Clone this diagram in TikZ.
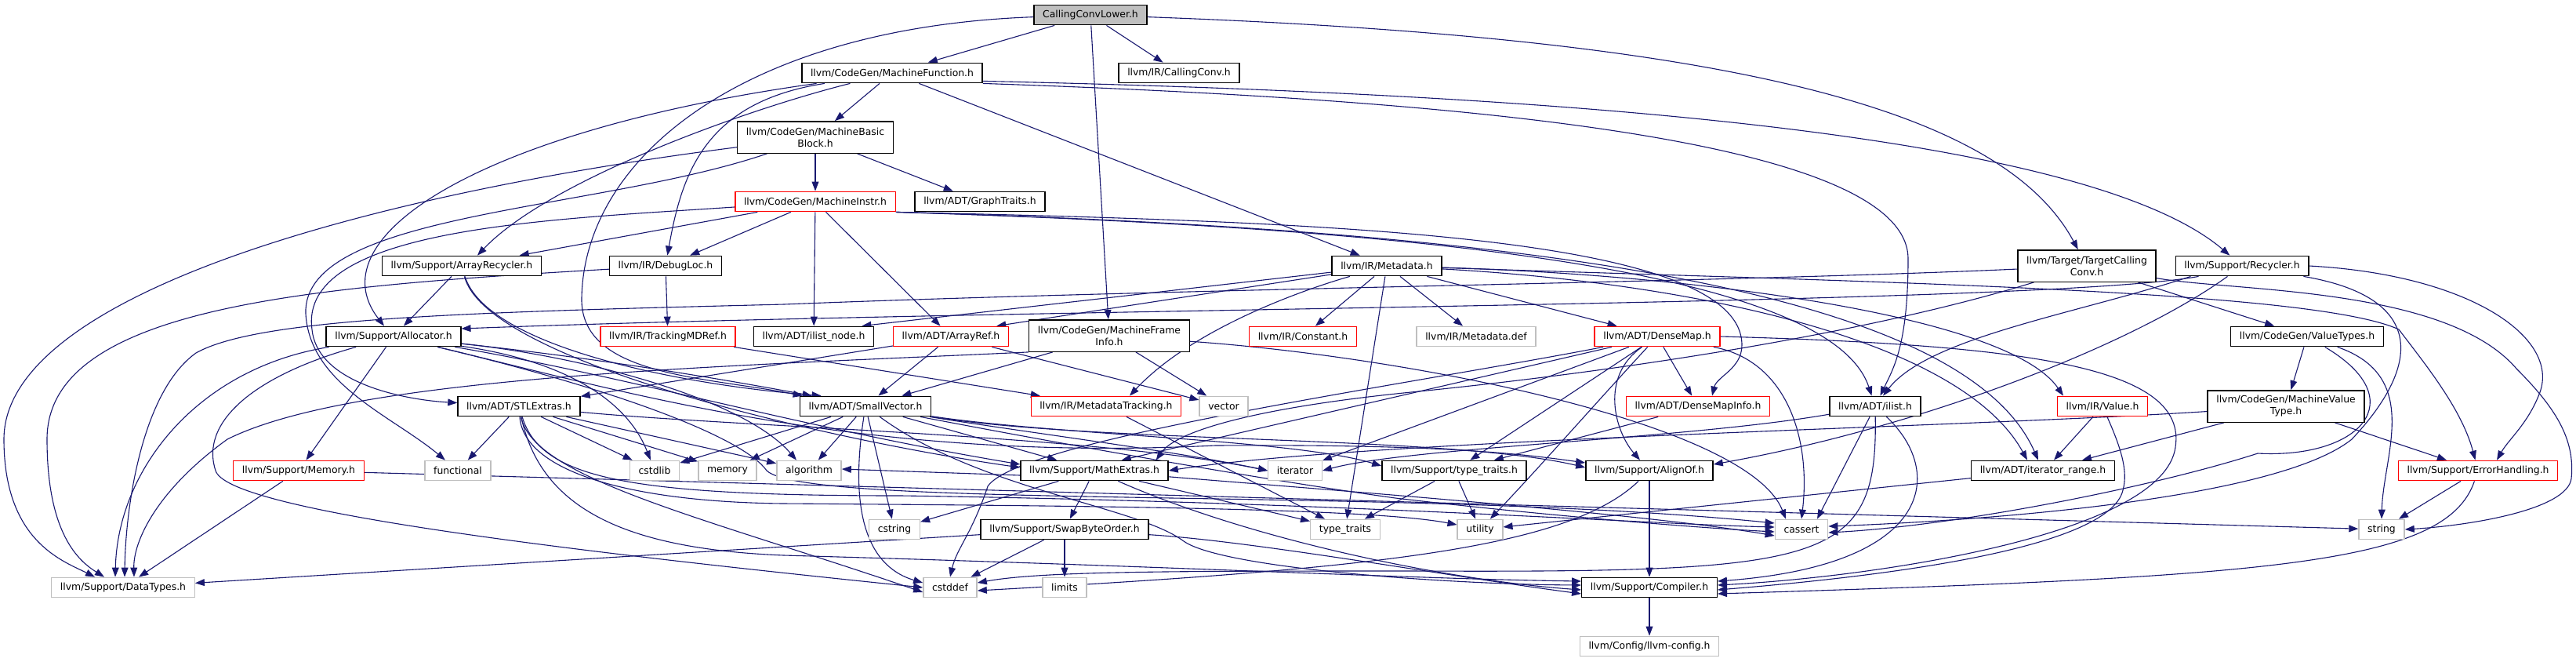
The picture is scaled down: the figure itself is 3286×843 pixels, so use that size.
\documentclass[tikz,border=0pt]{standalone}
\usepackage{fontspec}
\setmainfont{DejaVu Sans}
\usepackage{xcolor}
\usetikzlibrary{arrows.meta, backgrounds}
\definecolor{edgeblue}{HTML}{191970}
\definecolor{sysgray}{HTML}{BFBFBF}
\definecolor{truncred}{HTML}{FF0000}

\begin{document}
\begin{tikzpicture}[
      x=0.5pt, y=-0.5pt,
      font=\fontsize{6.2}{7.5}\selectfont,
      hdr/.style={draw=black, fill=white, line width=0.7pt, minimum height=12.7pt, inner xsep=5.6pt, inner ysep=1pt, align=center},
      trunc/.style={hdr, draw=truncred},
      sys/.style={hdr, draw=sysgray},
      root/.style={hdr, fill=sysgray},
      tall/.style={minimum height=20.2pt},
      arr/.style={-{Triangle[length=6pt, width=4.4pt]}, draw=edgeblue, line width=0.55pt}
    ]
    \useasboundingbox (0,0) rectangle (3286,843);
    %% rows of headers
    \node[root]  (ccl)     at (1391,19)  {CallingConvLower.h};
    \node[hdr]   (mf)      at (1138,93)  {llvm/CodeGen/MachineFunction.h};
    \node[hdr]   (cconv)   at (1504,93)  {llvm/IR/CallingConv.h};
    \node[hdr, tall] (mbb) at (1040,175) {llvm/CodeGen/MachineBasic\\Block.h};
    \node[trunc] (minstr)  at (1040,257) {llvm/CodeGen/MachineInstr.h};
    \node[hdr]   (gtraits) at (1250,257) {llvm/ADT/GraphTraits.h};
    \node[hdr]   (arec)    at (589,339)  {llvm/Support/ArrayRecycler.h};
    \node[hdr]   (dloc)    at (849,339)  {llvm/IR/DebugLoc.h};
    \node[hdr]   (mdata)   at (1769,339) {llvm/IR/Metadata.h};
    \node[hdr, tall] (tcc) at (2662,339) {llvm/Target/TargetCalling\\Conv.h};
    \node[hdr]   (recyc)   at (2860,339) {llvm/Support/Recycler.h};
    \node[hdr]   (alloc)   at (502,429)  {llvm/Support/Allocator.h};
    \node[trunc] (tmdref)  at (852,429)  {llvm/IR/TrackingMDRef.h};
    \node[hdr]   (ilnode)  at (1038,429) {llvm/ADT/ilist\_node.h};
    \node[trunc] (aref)    at (1213,429) {llvm/ADT/ArrayRef.h};
    \node[hdr, tall] (mfinfo) at (1415,428) {llvm/CodeGen/MachineFrame\\Info.h};
    \node[trunc] (const)   at (1662,429) {llvm/IR/Constant.h};
    \node[sys]   (mdef)    at (1883,429) {llvm/IR/Metadata.def};
    \node[trunc] (dmap)    at (2114,429) {llvm/ADT/DenseMap.h};
    \node[hdr]   (vtypes)  at (2943,429) {llvm/CodeGen/ValueTypes.h};
    \node[hdr]   (stlx)    at (662,518)  {llvm/ADT/STLExtras.h};
    \node[hdr]   (svec)    at (1104,518) {llvm/ADT/SmallVector.h};
    \node[trunc] (mdtrk)   at (1411,518) {llvm/IR/MetadataTracking.h};
    \node[sys]   (vect)    at (1561,518) {vector};
    \node[trunc] (dminfo)  at (2166,518) {llvm/ADT/DenseMapInfo.h};
    \node[hdr]   (ilist)   at (2392,518) {llvm/ADT/ilist.h};
    \node[trunc] (value)   at (2682,518) {llvm/IR/Value.h};
    \node[hdr, tall] (mvt) at (2916,518) {llvm/CodeGen/MachineValue\\Type.h};
    \node[trunc] (memh)    at (381,600)  {llvm/Support/Memory.h};
    \node[sys]   (func)    at (584,600)  {functional};
    \node[sys]   (cstdlib) at (835,600)  {cstdlib};
    \node[sys]   (memory)  at (928,600)  {memory};
    \node[sys]   (algo)    at (1032,600) {algorithm};
    \node[hdr]   (mathx)   at (1396,600) {llvm/Support/MathExtras.h};
    \node[sys]   (iter)    at (1652,600) {iterator};
    \node[hdr]   (stt)     at (1855,600) {llvm/Support/type\_traits.h};
    \node[hdr]   (alignof) at (2104,600) {llvm/Support/AlignOf.h};
    \node[hdr]   (itrng)   at (2606,600) {llvm/ADT/iterator\_range.h};
    \node[trunc] (errh)    at (3161,600) {llvm/Support/ErrorHandling.h};
    \node[sys]   (cstring) at (1141,675) {cstring};
    \node[hdr]   (sbo)     at (1358,675) {llvm/Support/SwapByteOrder.h};
    \node[sys]   (ttraits) at (1716,675) {type\_traits};
    \node[sys]   (utility) at (1888,675) {utility};
    \node[sys]   (cassert) at (2298,675) {cassert};
    \node[sys]   (string)  at (3038,675) {string};
    \node[sys]   (dtypes)  at (157,749)  {llvm/Support/DataTypes.h};
    \node[sys]   (cstddef) at (1212,749) {cstddef};
    \node[sys]   (limits)  at (1358,749) {limits};
    \node[hdr]   (compiler) at (2104,749) {llvm/Support/Compiler.h};
    \node[sys]   (config)  at (2104,824) {llvm/Config/llvm-config.h};
    \begin{scope}[on background layer]
    \fill[white] (0,0) rectangle (3286,843);
    %% CallingConvLower.h
    \draw[arr] (ccl) -- (mf);
    \draw[arr] (ccl) -- (cconv);
    \draw[arr] (ccl) -- (mfinfo);
    \draw[arr] (ccl) .. controls (2250,50) and (2560,150) .. (tcc);
    \draw[arr] (ccl) .. controls (950,35) and (745,200) .. (742,380) .. controls (740,480) and (900,480) .. ([xshift=2pt]svec.north west);
    %% MachineFunction.h
    \draw[arr] (mf) -- (mbb);
    \draw[arr] (mf) -- (mdata);
    \draw[arr] (mf) .. controls (950,140) and (700,230) .. ([xshift=10pt]arec.north);
    \draw[arr] (mf) .. controls (900,130) and (870,220) .. (dloc);
    \draw[arr] (mf) .. controls (620,165) and (400,300) .. ([xshift=-6pt]alloc.north);
    \draw[arr] (mf.south east) .. controls (1800,125) and (2434,170) .. (2434,330) .. controls (2434,440) and (2415,470) .. (ilist);
    \draw[arr] ([yshift=1.5pt]mf.south east) .. controls (1900,118) and (2650,160) .. (recyc);
    %% MachineBasicBlock.h
    \draw[arr] (mbb) -- (minstr);
    \draw[arr] (mbb) -- (gtraits);
    \draw[arr] (mbb) .. controls (450,250) and (5,380) .. (5,560) .. controls (5,690) and (80,715) .. ([xshift=-18pt]dtypes.north);
    \draw[arr] (mbb) .. controls (760,270) and (385,270) .. (390,400) .. controls (395,490) and (500,530) .. (func);
    %% MachineInstr.h
    \draw[arr] (minstr) -- (dloc);
    \draw[arr] (minstr) -- (ilnode);
    \draw[arr] (minstr) -- (aref);
    \draw[arr] (minstr) -- (arec);
    \draw[arr] (minstr) .. controls (700,280) and (380,290) .. (398,420) .. controls (405,490) and (520,510) .. (stlx);
    \draw[arr] (minstr.south east) .. controls (1700,283) and (2222,300) .. (2222,440) .. controls (2222,470) and (2190,480) .. ([xshift=9pt]dminfo.north);
    \draw[arr] (minstr.south east) .. controls (1700,288) and (2330,330) .. (ilist);
    \draw[arr] (minstr.south east) .. controls (1900,292) and (2500,360) .. ([xshift=-3pt]itrng.north);
    %% DebugLoc.h
    \draw[arr] (dloc) -- (tmdref);
    \draw[arr] (dloc) .. controls (400,365) and (60,390) .. (60,560) .. controls (60,680) and (100,715) .. ([xshift=-12pt]dtypes.north);
    %% ArrayRecycler.h
    \draw[arr] (arec) -- (alloc);
    \draw[arr] (arec) .. controls (620,440) and (860,490) .. ([xshift=14pt]svec.north west);
    \draw[arr] (arec) .. controls (620,460) and (1050,560) .. ([yshift=2pt]mathx.west);
    %% Metadata.h
    \draw[arr] (mdata) -- ([xshift=-8pt]aref.north east);
    \draw[arr] (mdata) -- ([xshift=-8pt]ilnode.north east);
    \draw[arr] (mdata) .. controls (1660,370) and (1520,420) .. ([xshift=15pt]mdtrk.north);
    \draw[arr] (mdata) -- (const);
    \draw[arr] (mdata) -- (ttraits);
    \draw[arr] (mdata) -- (mdef);
    \draw[arr] (mdata) -- (dmap);
    \draw[arr] (mdata) .. controls (2150,350) and (2560,400) .. ([xshift=-25pt]value.north);
    \draw[arr] (mdata) .. controls (2150,360) and (2500,430) .. ([xshift=-10pt]itrng.north);
    \draw[arr] (mdata) .. controls (2400,360) and (2950,370) .. (3060,420) .. controls (3090,460) and (3140,520) .. (errh);
    %% TargetCallingConv.h
    \draw[arr] (tcc) -- (vtypes);
    \draw[arr] (tcc) .. controls (2200,360) and (1500,368) .. (1000,388) .. controls (600,398) and (330,405) .. (250,450) .. controls (180,500) and (160,650) .. ([xshift=1pt]dtypes.north);
    \draw[arr] (tcc) .. controls (2400,420) and (2100,470) .. (1800,500) .. controls (1600,520) and (1500,550) .. ([xshift=-8pt]mathx.north east);
    \draw[arr] (tcc) .. controls (2850,372) and (3120,365) .. (3210,470) .. controls (3260,520) and (3285,560) .. (3280,610) .. controls (3275,650) and (3150,670) .. (string.east);
    %% Recycler.h
    \draw[arr] ([xshift=15pt]recyc.south west) .. controls (2600,390) and (1300,392) .. ([yshift=5pt]alloc.east);
    \draw[arr] ([xshift=10pt]recyc.south west) .. controls (2650,400) and (2460,430) .. ([xshift=5pt]ilist.north);
    \draw[arr] (recyc) .. controls (2720,440) and (2450,545) .. ([yshift=4pt]alignof.east);
    \draw[arr] (recyc.east) .. controls (3150,350) and (3265,430) .. (3240,500) .. controls (3225,540) and (3200,560) .. ([xshift=12pt]errh.north);
    \draw[arr] (recyc) .. controls (3100,380) and (3085,470) .. (3000,560) .. controls (2900,640) and (2500,665) .. ([yshift=2pt]cassert.east);
    %% Allocator.h
    \draw[arr] (alloc) -- (memh);
    \draw[arr] (alloc) .. controls (250,470) and (150,600) .. ([xshift=-5pt]dtypes.north);
    \draw[arr] (alloc) .. controls (320,480) and (255,540) .. (275,600) .. controls (290,650) and (700,700) .. (cstddef.west);
    \draw[arr] (alloc) .. controls (720,460) and (800,510) .. (cstdlib);
    \draw[arr] (alloc) .. controls (750,455) and (950,510) .. ([xshift=-8pt]algo.north);
    \draw[arr] (alloc) .. controls (700,450) and (850,470) .. ([xshift=8pt]svec.north west);
    \draw[arr] (alloc) .. controls (800,480) and (1020,545) .. ([yshift=4pt]mathx.west);
    \draw[arr] (alloc) .. controls (800,500) and (1100,590) .. (1550,568) .. controls (1850,566) and (1950,580) .. ([yshift=5pt]alignof.west);
    \draw[arr] (alloc) .. controls (800,500) and (950,560) .. (978,600) .. controls (1030,650) and (1800,620) .. ([yshift=4pt]cassert.west);
    %% SmallVector.h
    \draw[arr] (svec) -- (cstdlib);
    \draw[arr] (svec) -- (memory);
    \draw[arr] (svec) -- (algo);
    \draw[arr] (svec) -- (cstring);
    \draw[arr] (svec) -- (mathx);
    \draw[arr] (svec) .. controls (1085,640) and (1100,720) .. ([yshift=3pt]cstddef.west);
    \draw[arr] (svec) .. controls (1300,550) and (1500,575) .. (iter.west);
    \draw[arr] (svec) .. controls (1350,555) and (1650,560) .. ([yshift=3pt]stt.west);
    \draw[arr] (svec) .. controls (1400,565) and (1850,555) .. ([yshift=2pt]alignof.west);
    \draw[arr] (svec) .. controls (1350,565) and (1600,610) .. (1780,635) .. controls (1950,655) and (2150,672) .. ([yshift=-1.5pt]cassert.west);
    \draw[arr] (svec) .. controls (1250,625) and (1450,645) .. (1510,690) .. controls (1560,725) and (1850,745) .. ([yshift=1.5pt]compiler.west);
    %% STLExtras.h
    \draw[arr] (stlx) -- (func);
    \draw[arr] (stlx) -- (cstdlib);
    \draw[arr] (stlx) -- (memory);
    \draw[arr] (stlx) -- (algo);
    \draw[arr] (stlx) .. controls (950,545) and (1400,555) .. (iter.west);
    \draw[arr] (stlx) .. controls (668,600) and (800,640) .. (1000,642) .. controls (1400,645) and (1750,648) .. ([yshift=3pt]utility.west);
    \draw[arr] (stlx) .. controls (680,610) and (900,660) .. ([yshift=-3pt]cstddef.west);
    \draw[arr] (stlx) .. controls (690,650) and (800,700) .. (1000,708) .. controls (1500,722) and (1800,738) .. ([yshift=4pt]compiler.west);
    \draw[arr] (stlx) .. controls (690,610) and (800,632) .. (1150,632) .. controls (1700,640) and (2100,668) .. ([yshift=1.5pt]cassert.west);
    %% MathExtras.h
    \draw[arr] (mathx) -- (cstring);
    \draw[arr] (mathx) -- (sbo);
    \draw[arr] ([yshift=-3pt]mathx.west) -- ([yshift=1pt]algo.east);
    \draw[arr] (mathx) -- (ttraits);
    \draw[arr] (mathx) .. controls (1700,625) and (2100,655) .. ([yshift=-4pt]cassert.west);
    \draw[arr] (mathx) .. controls (1600,690) and (1850,740) .. ([yshift=-1.5pt]compiler.west);
    %% SwapByteOrder.h
    \draw[arr] (sbo) -- (cstddef);
    \draw[arr] (sbo) -- (limits);
    \draw[arr] (sbo) -- (dtypes);
    \draw[arr] (sbo) .. controls (1600,690) and (1850,735) .. ([yshift=-4pt]compiler.west);
    %% smaller headers
    \draw[arr] (stt) -- (ttraits);
    \draw[arr] (stt) -- (utility);
    \draw[arr] (dminfo) -- (stt);
    \draw[arr] (mdtrk) -- (ttraits);
    \draw[arr] (tmdref) -- (mdtrk);
    \draw[arr] (aref) -- (svec);
    \draw[arr] (aref) -- (vect);
    \draw[arr] (aref) -- (stlx);
    \draw[arr] (mfinfo) -- (svec);
    \draw[arr] (mfinfo) -- (vect);
    \draw[arr] (mfinfo) .. controls (1800,455) and (2230,540) .. ([xshift=-10pt]cassert.north);
    \draw[arr] (mfinfo.south west) .. controls (900,468) and (450,480) .. (290,560) .. controls (200,625) and (170,690) .. ([xshift=7pt]dtypes.north);
    %% DenseMap.h
    \draw[arr] (dmap) -- (dminfo);
    \draw[arr] (dmap) .. controls (2040,480) and (2060,550) .. ([xshift=-6pt]alignof.north);
    \draw[arr] (dmap) -- (stt);
    \draw[arr] (dmap) .. controls (2030,520) and (1960,600) .. (utility);
    \draw[arr] (dmap) .. controls (2280,460) and (2310,560) .. (cassert.north);
    \draw[arr] (dmap.east) .. controls (2600,440) and (2790,470) .. (2775,570) .. controls (2760,680) and (2400,735) .. ([yshift=1.5pt]compiler.east);
    \draw[arr] (dmap) -- (iter);
    \draw[arr] (dmap) -- ([xshift=-30pt]mathx.north east);
    \draw[arr] (dmap) .. controls (1800,490) and (1300,560) .. (1260,620) .. controls (1240,680) and (1220,700) .. (cstddef.north);
    %% ilist.h
    \draw[arr] (ilist) .. controls (2150,560) and (1800,570) .. (iter.east);
    \draw[arr] (ilist) -- ([xshift=10pt]cassert.north);
    \draw[arr] (ilist) .. controls (2395,720) and (2330,730) .. (1800,728) .. controls (1500,728) and (1330,728) .. ([yshift=3pt]cstddef.east);
    \draw[arr] (ilist) .. controls (2480,600) and (2470,720) .. ([yshift=4pt]compiler.east);
    %% AlignOf.h, iterator_range.h, Value.h
    \draw[arr] (alignof) -- (compiler);
    \draw[arr] (alignof) .. controls (2000,700) and (1750,725) .. ([yshift=-2pt]cstddef.east);
    \draw[arr] (itrng) -- (utility);
    \draw[arr] (value) -- ([xshift=7pt]itrng.north);
    \draw[arr] (value) .. controls (2705,570) and (2715,600) .. (2708,625) .. controls (2690,700) and (2400,735) .. ([yshift=-1.5pt]compiler.east);
    %% MachineValueType.h, ValueTypes.h
    \draw[arr] (mvt) .. controls (2500,545) and (1750,560) .. (mathx.east);
    \draw[arr] (mvt) -- ([xshift=25pt]itrng.north);
    \draw[arr] (mvt) -- (errh);
    \draw[arr] (vtypes) -- (mvt);
    \draw[arr] (vtypes) .. controls (3090,480) and (3040,580) .. (string.north);
    \draw[arr] (vtypes) .. controls (3080,510) and (3010,585) .. (2880,578) .. controls (2750,620) and (2500,670) .. ([yshift=-2pt]cassert.east);
    %% ErrorHandling.h, Memory.h, Compiler.h
    \draw[arr] (errh) -- (string);
    \draw[arr] (errh) .. controls (3120,720) and (2900,735) .. ([yshift=-4pt]compiler.east);
    \draw[arr] (memh) -- (dtypes);
    \draw[arr] (memh) -- (string);
    \draw[arr] (compiler) -- (config);
    \end{scope}
  \end{tikzpicture}
\end{document}
